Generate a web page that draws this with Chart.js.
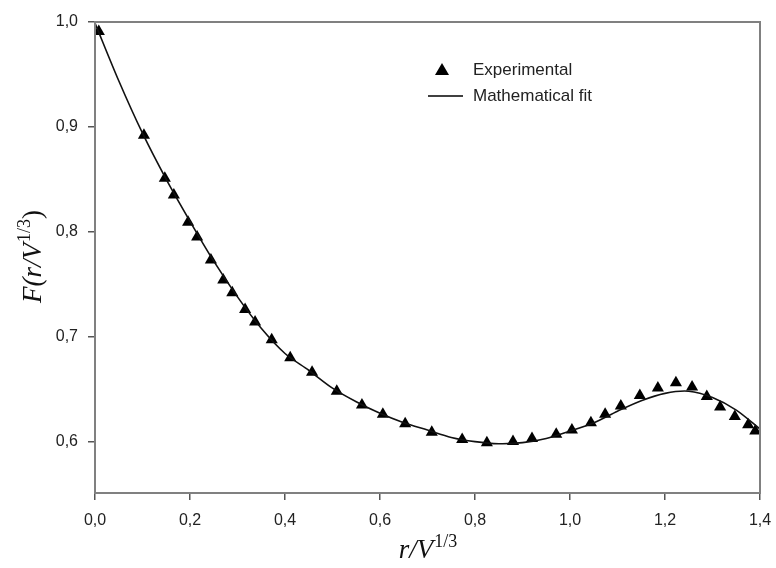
<!DOCTYPE html>
<html>
<head>
<meta charset="utf-8">
<script src="https://cdn.jsdelivr.net/npm/chart.js@4/dist/chart.umd.min.js"></script>
<style>
  body { margin: 0; background: #fff; }
  #wrap { width: 776px; height: 568px; }
</style>
</head>
<body>
<div id="wrap"><canvas id="fChart" width="776" height="568"></canvas></div>
<script>
// ---- data ----
const expX = [0.008, 0.103, 0.147, 0.166, 0.196, 0.215, 0.244, 0.270, 0.289, 0.316,
              0.337, 0.372, 0.411, 0.457, 0.509, 0.562, 0.606, 0.653, 0.709, 0.773,
              0.825, 0.880, 0.920, 0.971, 1.004, 1.044, 1.074, 1.107, 1.147, 1.185,
              1.223, 1.257, 1.288, 1.316, 1.347, 1.375, 1.390];
const expY = [0.991, 0.892, 0.851, 0.835, 0.809, 0.795, 0.773, 0.754, 0.742, 0.726,
              0.714, 0.697, 0.680, 0.666, 0.648, 0.635, 0.626, 0.617, 0.609, 0.602,
              0.599, 0.600, 0.603, 0.607, 0.611, 0.618, 0.626, 0.634, 0.644, 0.651,
              0.656, 0.652, 0.643, 0.633, 0.624, 0.616, 0.610];

const fitX = [0.00, 0.05, 0.10, 0.15, 0.20, 0.25, 0.30, 0.35, 0.40, 0.45,
              0.50, 0.55, 0.60, 0.65, 0.70, 0.75, 0.80, 0.85, 0.90, 0.95,
              1.00, 1.05, 1.10, 1.15, 1.20, 1.25, 1.30, 1.35, 1.40];
const fitY = [0.999, 0.944, 0.894, 0.850, 0.810, 0.772, 0.738, 0.708, 0.684, 0.668,
              0.651, 0.638, 0.627, 0.618, 0.611, 0.604, 0.600, 0.598, 0.599, 0.603,
              0.610, 0.618, 0.629, 0.639, 0.646, 0.648, 0.642, 0.630, 0.612];

const xTicks = [0.0, 0.2, 0.4, 0.6, 0.8, 1.0, 1.2, 1.4];
const yTicks = [0.6, 0.7, 0.8, 0.9, 1.0];

const seriesNames = ["Experimental", "Mathematical fit"];

// ---- helpers ----
function commaLabel(v){
    return v.toFixed(1).replace(".", ",");
}

// italic base text, upright superscript, upright tail, centred on x
function drawSupText(ctx, x, y, base, sup, tail){
    const big = "27px 'Liberation Serif'";
    const small = "18px 'Liberation Serif'";
    ctx.font = "italic " + big;
    const w1 = ctx.measureText(base).width;
    ctx.font = small;
    const w2 = ctx.measureText(sup).width;
    ctx.font = big;
    const w3 = ctx.measureText(tail).width;
    let sx = x - (w1 + w2 + w3) / 2;
    ctx.textAlign = "left";
    ctx.textBaseline = "alphabetic";
    ctx.font = "italic " + big;
    ctx.fillText(base, sx, y);
    sx += w1 + 1;
    ctx.font = small;
    ctx.fillText(sup, sx, y - 11);
    sx += w2;
    ctx.font = big;
    ctx.fillText(tail, sx, y);
}

const framePlugin = {
    id: "frame",
    afterDraw(chart){
        const c = chart.ctx;
        const a = chart.chartArea;
        c.save();

        // box round the plot
        c.strokeStyle = "#808080";
        c.lineWidth = 2;
        c.strokeRect(a.left, a.top, a.right - a.left, a.bottom - a.top);

        // axis titles
        c.fillStyle = "#111";
        drawSupText(c, (a.left + a.right) / 2, 558, "r/V", "1/3", "");

        c.save();
        c.translate(41, 257);
        c.rotate(-Math.PI / 2);
        drawSupText(c, 0, 0, "F(r/V", "1/3", ")");
        c.restore();

        // legend
        c.font = "17px 'Liberation Sans'";
        c.textAlign = "left";
        c.textBaseline = "middle";
        c.fillStyle = "#222";
        c.fillText(seriesNames[0], 473, 70);
        c.fillText(seriesNames[1], 473, 96);

        c.fillStyle = "#000";
        c.beginPath();
        c.moveTo(442, 63);
        c.lineTo(449, 75);
        c.lineTo(435, 75);
        c.closePath();
        c.fill();

        c.strokeStyle = "#000";
        c.lineWidth = 1.5;
        c.beginPath();
        c.moveTo(428, 96);
        c.lineTo(463, 96);
        c.stroke();

        c.restore();
    }
};

const ctx = document.getElementById("fChart").getContext("2d");

new Chart(ctx, {
    type: "scatter",
    data: {
        datasets: [
            {
                label: seriesNames[0],
                data: expX.map((x, i) => ({ x: x, y: expY[i] })),
                pointStyle: "triangle",
                pointRadius: 7,
                backgroundColor: "#000",
                borderColor: "#000",
                borderWidth: 0,
                showLine: false,
                order: 1
            },
            {
                label: seriesNames[1],
                data: fitX.map((x, i) => ({ x: x, y: fitY[i] })),
                showLine: true,
                pointRadius: 0,
                borderColor: "#111",
                borderWidth: 1.6,
                tension: 0.3,
                fill: false,
                order: 0
            }
        ]
    },
    options: {
        responsive: false,
        animation: false,
        layout: { autoPadding: false, padding: { left: 0, right: 0, top: 22, bottom: 0 } },
        plugins: {
            legend: { display: false },
            tooltip: { enabled: false }
        },
        scales: {
            x: {
                type: "linear",
                min: 0,
                max: 1.4,
                afterBuildTicks(scale){ scale.ticks = xTicks.map(v => ({ value: v })); },
                afterFit(scale){
                    scale.height = 75;
                    scale.paddingRight = 16;
                    scale.paddingLeft = 0;
                },
                border: { color: "#808080", width: 2 },
                grid: { drawOnChartArea: false, drawTicks: true, tickLength: 7, color: "#555", lineWidth: 1.5 },
                ticks: {
                    callback: v => commaLabel(v),
                    color: "#222",
                    font: { family: "'Liberation Sans'", size: 16 },
                    padding: 11,
                    maxRotation: 0
                },
                title: { display: false }
            },
            y: {
                type: "linear",
                min: 0.551,
                max: 1.0,
                afterBuildTicks(scale){ scale.ticks = yTicks.map(v => ({ value: v })); },
                afterFit(scale){ scale.width = 95; },
                border: { color: "#808080", width: 2 },
                grid: { drawOnChartArea: false, drawTicks: true, tickLength: 7, color: "#555", lineWidth: 1.5 },
                ticks: {
                    callback: v => commaLabel(v),
                    color: "#222",
                    font: { family: "'Liberation Sans'", size: 16 },
                    padding: 10
                },
                title: { display: false }
            }
        }
    },
    plugins: [framePlugin]
});
</script>
</body>
</html>
